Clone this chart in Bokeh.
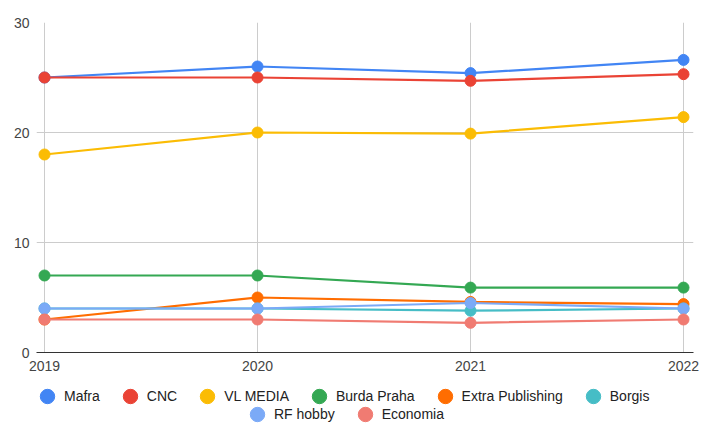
from bokeh.plotting import figure
from bokeh.layouts import column
from bokeh.models import Legend, LegendItem, FixedTicker, Range1d
from bokeh.embed import file_html
from bokeh.resources import INLINE

years = [2019, 2020, 2021, 2022]
names = ["Mafra", "CNC", "VL MEDIA", "Burda Praha", "Extra Publishing", "Borgis", "RF hobby", "Economia"]
mafra = [25, 26, 25.4, 26.6]
cnc = [25, 25, 24.7, 25.3]
vl_media = [18, 20, 19.9, 21.4]
burda = [7, 7, 5.9, 5.9]
extra = [3, 5, 4.6, 4.4]
borgis = [4, 4, 3.8, 4.0]
rf_hobby = [4, 4, 4.5, 4.0]
economia = [3, 3, 2.7, 3.0]
series = [mafra, cnc, vl_media, burda, extra, borgis, rf_hobby, economia]
colors = ["#4285F4", "#EA4335", "#FBBC04", "#34A853", "#FF6D01", "#46BDC6", "#7BAAF7", "#F07B72"]
y_ticks = [0, 10, 20, 30]

FONT = "Liberation Sans"

# main chart
p = figure(width=701, height=378, output_backend="svg", toolbar_location=None,
           x_range=Range1d(2018.9624, 2022.0469), y_range=Range1d(0, 30),
           min_border_left=36, min_border_right=8, min_border_top=22, min_border_bottom=26)
p.outline_line_color = None
p.background_fill_color = "white"

for vals, c in zip(series, colors):
    p.line(years, vals, line_color=c, line_width=2.2)
    p.ellipse(x=years, y=vals, width=11, height=11, width_units="screen",
              height_units="screen", fill_color=c, line_color=c)

p.xaxis.ticker = FixedTicker(ticks=years)
p.yaxis.ticker = FixedTicker(ticks=y_ticks)
p.xgrid.ticker = FixedTicker(ticks=years)
p.ygrid.ticker = FixedTicker(ticks=y_ticks)
p.grid.grid_line_color = "#cccccc"
p.grid.grid_line_width = 1

for ax in (p.xaxis, p.yaxis):
    ax.major_tick_line_color = None
    ax.minor_tick_line_color = None
    ax.major_tick_out = 0
    ax.major_tick_in = 0
    ax.major_label_text_font = FONT
    ax.major_label_text_font_size = "14px"
    ax.major_label_text_color = "#444444"
p.yaxis.axis_line_color = None
p.yaxis.major_label_standoff = 7
p.xaxis.axis_line_color = "#333333"
p.xaxis.major_label_standoff = 8

# legend strip (its own glyphs lie outside its ranges, only the legend shows)
lp = figure(width=701, height=45, output_backend="svg", toolbar_location=None,
            x_range=Range1d(0, 1), y_range=Range1d(0, 1),
            x_axis_location=None, y_axis_location=None,
            min_border_left=0, min_border_right=0, min_border_top=0, min_border_bottom=0)
lp.outline_line_color = None
lp.grid.visible = False
markers = []
for vals, c in zip(series, colors):
    r = lp.ellipse(x=years, y=vals, width=11, height=11, width_units="screen",
                   height_units="screen", fill_color=c, line_color=c)
    markers.append(r)

def make_legend(idx, loc):
    items = [LegendItem(label=names[i], renderers=[markers[i]]) for i in idx]
    return Legend(items=items, orientation="horizontal", location=loc,
                  glyph_width=18, glyph_height=18, label_standoff=8, spacing=21,
                  padding=0, margin=0,
                  border_line_color=None, background_fill_alpha=0,
                  label_text_font=FONT, label_text_font_size="14px", label_text_color="#222222",
                  label_height=18)

lp.add_layout(make_legend([0, 1, 2, 3, 4, 5], (2, 18)))
lp.add_layout(make_legend([6, 7], (212, 0)))

layout = column(p, lp, spacing=0)
open("out.html", "w").write(file_html(layout, INLINE))
